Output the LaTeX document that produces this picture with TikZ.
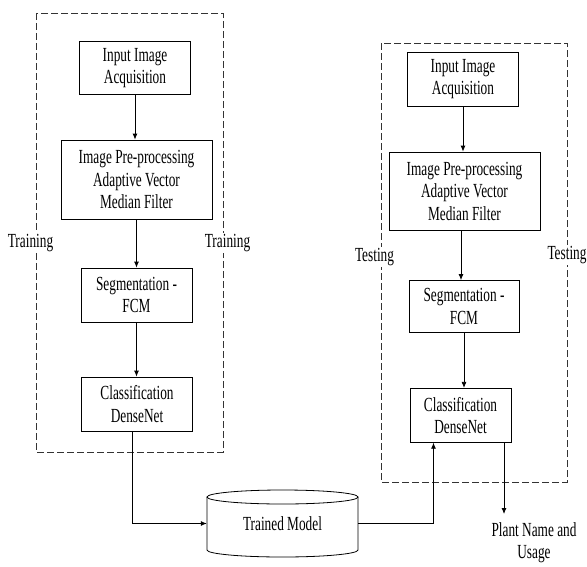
\documentclass[tikz,border=0pt]{standalone}
\usepackage{fontspec}
\setmainfont{Liberation Serif}[FakeStretch=0.665]
\usetikzlibrary{arrows.meta}
\begin{document}
\begin{tikzpicture}[x=1pt,y=-1pt,
  font=\fontsize{20}{22.5}\selectfont,
  box/.style={draw,line width=0.8pt,align=center,inner sep=1pt},
  frame/.style={draw=black!80,line width=0.8pt,dash pattern=on 7pt off 3pt},
  lab/.style={fill=white,inner sep=1pt},
  conn/.style={line width=0.8pt,-{Latex[length=6pt,width=5pt]}}]
\useasboundingbox (0,0) rectangle (587,566);
% frames
\draw[frame] (36,13) rectangle (223,452);
\draw[frame] (381,43) rectangle (567,482);
% training column
\node[box,minimum width=111pt,minimum height=53pt] (in1) at (135,68) {Input Image\\Acquisition};
\node[box,minimum width=151pt,minimum height=79pt] (pre1) at (136.5,179.5) {Image Pre-processing\\Adaptive Vector\\Median Filter};
\node[box,minimum width=111pt,minimum height=54pt] (seg1) at (136.5,295) {Segmentation -\\FCM};
\node[box,minimum width=111pt,minimum height=54pt] (cls1) at (137,404) {Classification\\DenseNet};
% testing column
\node[box,minimum width=111pt,minimum height=54pt] (in2) at (463,79) {Input Image\\Acquisition};
\node[box,minimum width=151pt,minimum height=78pt] (pre2) at (464.5,191) {Image Pre-processing\\Adaptive Vector\\Median Filter};
\node[box,minimum width=110pt,minimum height=52pt] (seg2) at (464,306.5) {Segmentation -\\FCM};
\node[box,minimum width=101pt,minimum height=54pt] (cls2) at (460.5,415.3) {Classification\\DenseNet};
% labels
\node[lab] (tr1) at (30.5,243) {Training};
\node[lab] (tr2) at (227.5,243) {Training};
\node[lab] (te1) at (374.5,257) {Testing};
\node[lab] (te2) at (567,255) {Testing};
% cylinder
\node[minimum width=151pt,minimum height=60pt,inner sep=0pt] (tm) at (282.5,523.5) {Trained Model};
\draw[line width=0.8pt] (207,497) -- (207,550) arc[start angle=180,end angle=360,x radius=75.5pt,y radius=7pt] -- (358,497);
\draw[line width=0.8pt] (282.5,497) ellipse [x radius=75.5pt,y radius=7pt];
% output
\node[align=center,inner sep=0pt,font=\fontsize{20}{22}\selectfont] (plant) at (534,543) {Plant Name and\\Usage};
\coordinate (pend) at (504,514);
% connectors
\draw[conn] (in1) -- (in1 |- pre1.north);
\draw[conn] (pre1) -- (seg1);
\draw[conn] (seg1) -- (seg1 |- cls1.north);
\draw[conn] ([xshift=-5pt]cls1.south) |- (tm.west);
\draw[conn] (in2) -- (in2.south |- pre2.north);
\draw[conn] ([xshift=-3.5pt]pre2.south) -- ([xshift=-3.5pt]pre2.south |- seg2.north);
\draw[conn] (seg2.south) -- (seg2.south |- cls2.north);
\draw[conn] (tm.east) -| ([xshift=-27pt]cls2.south);
\draw[conn] ([xshift=43.5pt]cls2.south) -- (pend);
\end{tikzpicture}
\end{document}
